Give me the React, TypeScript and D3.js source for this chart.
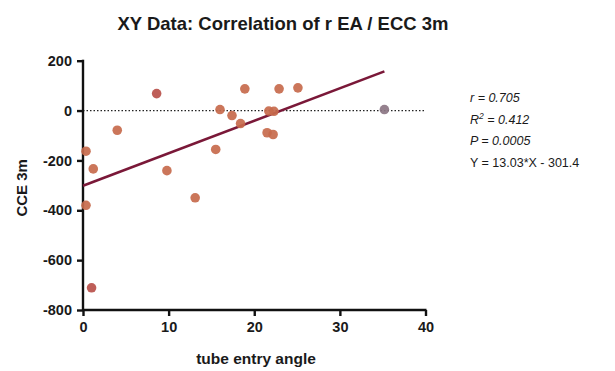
import React, { useEffect, useRef } from 'react';
import * as d3 from 'd3';

const entryAngle = [0.35, 1.2, 0.35, 1.0, 4.0, 8.6, 9.8, 13.1, 15.5, 16.0, 17.4, 18.4, 18.9, 21.5, 22.2, 21.7, 22.3, 22.9, 25.1, 35.2];
const cce3m = [-163, -234, -380, -711, -79, 68, -241, -350, -156, 4, -20, -52, 87, -89, -96, -2, -3, 87, 91, 4];
const pointGroup = ['a', 'a', 'a', 'b', 'a', 'b', 'a', 'a', 'a', 'a', 'a', 'a', 'a', 'a', 'a', 'a', 'a', 'a', 'a', 'c'];
const xTicks = [0, 10, 20, 30, 40];
const yTicks = [200, 0, -200, -400, -600, -800];
const slope = 13.03;
const intercept = -301.4;
const statLines = ['r = 0.705', 'R2 = 0.412', 'P = 0.0005', 'Y = 13.03*X - 301.4'];

export default function App() {
	const ref = useRef<SVGSVGElement | null>(null);

	useEffect(() => {
		if (!ref.current) return;
		const svg = d3.select(ref.current);
		svg.selectAll('*').remove();

		const x = d3.scaleLinear().domain([0, 40]).range([83, 425.5]);
		const y = d3.scaleLinear().domain([-800, 200]).range([310, 60.7]);
		const color = d3.scaleOrdinal<string>().domain(['a', 'b', 'c']).range(['#c76a4c', '#b8504a', '#8c7684']);
		const font = 'Liberation Sans, Arial, Helvetica, sans-serif';

		svg.append('text')
			.attr('x', 283).attr('y', 30)
			.attr('text-anchor', 'middle')
			.attr('font-family', font).attr('font-weight', 'bold').attr('font-size', 18.5)
			.attr('fill', '#1a1a1a')
			.text('XY Data: Correlation of r EA / ECC 3m');

		// zero reference line
		svg.append('line')
			.attr('x1', x(0)).attr('x2', x(40))
			.attr('y1', y(0)).attr('y2', y(0))
			.attr('stroke', '#222').attr('stroke-width', 1.2).attr('stroke-dasharray', '1.5,2');

		const fmt = (d: d3.NumberValue) => String(d);
		const xAxis = svg.append('g')
			.attr('transform', `translate(0,${y(-800)})`)
			.call(d3.axisBottom(x).tickValues(xTicks).tickFormat(fmt).tickSize(6).tickPadding(6).tickSizeOuter(0));
		const yAxis = svg.append('g')
			.attr('transform', `translate(${x(0)},0)`)
			.call(d3.axisLeft(y).tickValues(yTicks).tickFormat(fmt).tickSize(6).tickPadding(5).tickSizeOuter(0));
		[xAxis, yAxis].forEach((ax) => {
			ax.selectAll('path,line').attr('stroke', '#111').attr('stroke-width', 2.4);
			ax.selectAll('text')
				.attr('fill', '#1a1a1a')
				.attr('font-family', font).attr('font-weight', 'bold').attr('font-size', 14.5);
		});
		yAxis.select('.domain').attr('d', `M0,${y(200) - 1}V${y(-800)}`);
		xAxis.select('.domain').attr('d', `M${x(0)},0H${x(40) + 1}`);

		// regression line
		svg.append('line')
			.attr('x1', x(0)).attr('x2', x(35.2))
			.attr('y1', y(intercept)).attr('y2', y(slope * 35.2 + intercept))
			.attr('stroke', '#7a1838').attr('stroke-width', 2.6);

		svg.append('g')
			.selectAll('circle')
			.data(entryAngle)
			.enter()
			.append('circle')
			.attr('cx', (d) => x(d))
			.attr('cy', (_, i) => y(cce3m[i]))
			.attr('r', 4.8)
			.attr('fill', (_, i) => color(pointGroup[i]))
			.attr('opacity', 0.92);

		svg.append('text')
			.attr('transform', `translate(27,${y(-310)}) rotate(-90)`)
			.attr('text-anchor', 'middle')
			.attr('font-family', font).attr('font-weight', 'bold').attr('font-size', 15)
			.attr('fill', '#1a1a1a')
			.text('CCE 3m');

		svg.append('text')
			.attr('x', 256).attr('y', 364)
			.attr('text-anchor', 'middle')
			.attr('font-family', font).attr('font-weight', 'bold').attr('font-size', 15.5)
			.attr('fill', '#1a1a1a')
			.text('tube entry angle');

		const stats = svg.append('g').attr('font-family', font).attr('font-size', 12.5).attr('fill', '#1a1a1a');
		statLines.forEach((s, i) => {
			const t = stats.append('text').attr('x', 470).attr('y', 102 + i * 21.5);
			if (i === 1) {
				t.attr('font-style', 'italic');
				t.append('tspan').text('R');
				t.append('tspan').attr('font-size', 8.5).attr('dy', -5).text('2');
				t.append('tspan').attr('dy', 5).text(s.slice(2));
			} else {
				t.attr('font-style', i < 3 ? 'italic' : 'normal').text(s);
			}
		});
	}, []);

	return (
		<svg
			ref={ref}
			width={615}
			height={371}
			viewBox="0 0 615 371"
			style={{ position: 'absolute', left: 0, top: 0, background: '#fff' }}
		/>
	);
}
